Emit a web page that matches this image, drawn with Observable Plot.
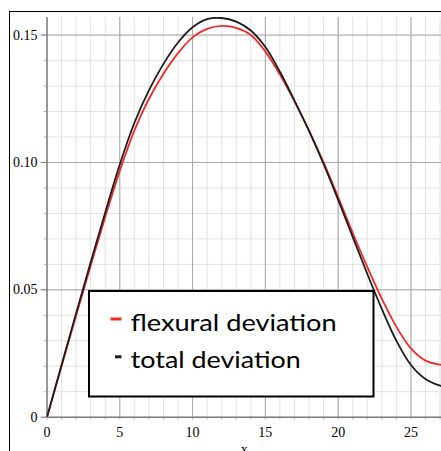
<!DOCTYPE html>
<html>
<head>
<meta charset="utf-8">
<script src="https://cdn.jsdelivr.net/npm/d3@7"></script>
<script src="https://cdn.jsdelivr.net/npm/@observablehq/plot@0.6"></script>
<style>
  html, body { margin: 0; padding: 0; background: #fff; overflow: hidden; }
  #wrap { position: relative; width: 441px; height: 451px; overflow: hidden; }
  #frame { position: absolute; left: 9px; top: 11px; width: 440px; height: 450px;
           border-left: 1.5px solid #000; border-top: 1.5px solid #000; pointer-events: none; }
  #legend { position: absolute; left: 0; top: 0; pointer-events: none; }
</style>
</head>
<body>
<div id="wrap"><div id="frame"></div></div>
<script>
// ---- data ----
const xs = [0,1,2,3,4,5,6,7,8,9,10,11,12,13,14,15,16,17,18,19,20,21,22,23,24,25,26,27,28];
const flexural = [0,0.0200,0.0399,0.0595,0.0786,0.0967,0.1125,0.1249,0.1348,0.1429,0.1491,0.1524,0.1536,0.1528,0.1500,0.1435,0.1345,0.1240,0.1125,0.1000,0.0864,0.0724,0.0590,0.0465,0.0355,0.0270,0.0222,0.0206,0.0210];
const total    = [0,0.0205,0.0408,0.0608,0.0804,0.0992,0.1155,0.1283,0.1387,0.1471,0.1531,0.1563,0.1567,0.1553,0.1518,0.1453,0.1356,0.1243,0.1124,0.0994,0.0853,0.0708,0.0563,0.0425,0.0300,0.0205,0.0150,0.0124,0.0112];
const seriesNames = ["flexural deviation", "total deviation"];
const seriesColors = ["#ee2a2a", "#1c1c1c"];
const xMajorTicks = [0,5,10,15,20,25];
const xMinorTicks = d3.range(0, 28, 1);
const yMajorTicks = [0,0.05,0.10,0.15];
const yMinorTicks = d3.range(0, 16).map(i => i / 100);

const rows = [];
xs.forEach((x, i) => {
  rows.push({x, y: flexural[i], s: seriesNames[0]});
  rows.push({x, y: total[i], s: seriesNames[1]});
});

const plot = Plot.plot({
  width: 441,
  height: 451,
  marginLeft: 46.5,
  marginRight: 0,
  marginTop: 17,
  marginBottom: 34.3,
  style: {fontFamily: "'Liberation Serif', serif", fontSize: "14px", background: "transparent", color: "#000"},
  x: {domain: [0, 27.1]},
  y: {domain: [0, 0.1569]},
  color: {domain: seriesNames, range: seriesColors},
  marks: [
    Plot.ruleX(xMinorTicks, {stroke: "#e2e2e2", strokeWidth: 1}),
    Plot.ruleY(yMinorTicks, {stroke: "#e2e2e2", strokeWidth: 1}),
    Plot.ruleX(xMajorTicks.filter(d => d > 0), {stroke: "#a8a8a8", strokeWidth: 1}),
    Plot.ruleY(yMajorTicks.filter(d => d > 0), {stroke: "#a8a8a8", strokeWidth: 1}),
    Plot.axisY({ticks: yMinorTicks, tickSize: 3, text: null, stroke: "#bbb", label: null}),
    Plot.axisY({ticks: yMajorTicks, tickSize: 6, tickPadding: 3.5, stroke: "#777",
                tickFormat: d => d === 0 ? "0" : d.toFixed(2), label: null}),
    Plot.axisX({ticks: xMinorTicks, tickSize: 3, text: null, stroke: "#bbb", label: null}),
    Plot.axisX({ticks: xMajorTicks, tickSize: 0, tickPadding: 10, label: "x",
                labelAnchor: "center", labelArrow: "none", labelOffset: 37}),
    Plot.ruleX([0], {stroke: "#7a7a7a", strokeWidth: 1.5}),
    Plot.ruleY([0], {stroke: "#7a7a7a", strokeWidth: 1.5}),
    Plot.line(rows, {x: "x", y: "y", z: "s", stroke: "s", strokeWidth: 1.8, curve: "catmull-rom", clip: true})
  ]
});

const wrap = document.getElementById("wrap");
wrap.insertBefore(plot, wrap.firstChild);

// legend drawn as an overlay box
const lg = d3.select(wrap).append("svg").attr("id", "legend").attr("width", 441).attr("height", 451);
lg.append("rect").attr("x", 89).attr("y", 291).attr("width", 284.5).attr("height", 105.5)
  .attr("fill", "#fff").attr("stroke", "#000").attr("stroke-width", 2);
const entries = [
  {name: seriesNames[0], color: seriesColors[0], y: 330.5, len: 206, dash: [110.5, 121.5]},
  {name: seriesNames[1], color: seriesColors[1], y: 368.3, len: 170, dash: [115, 121.5]}
];
entries.forEach(e => {
  lg.append("line").attr("x1", e.dash[0]).attr("x2", e.dash[1]).attr("y1", e.y - 11.5).attr("y2", e.y - 11.5)
    .attr("stroke", e.color).attr("stroke-width", 3);
  lg.append("text").attr("x", 130.7).attr("y", e.y).text(e.name)
    .attr("font-family", "Lato, 'Open Sans', sans-serif").attr("font-size", 24).attr("fill", "#000")
    .attr("textLength", e.len).attr("lengthAdjust", "spacingAndGlyphs");
});
</script>
</body>
</html>
